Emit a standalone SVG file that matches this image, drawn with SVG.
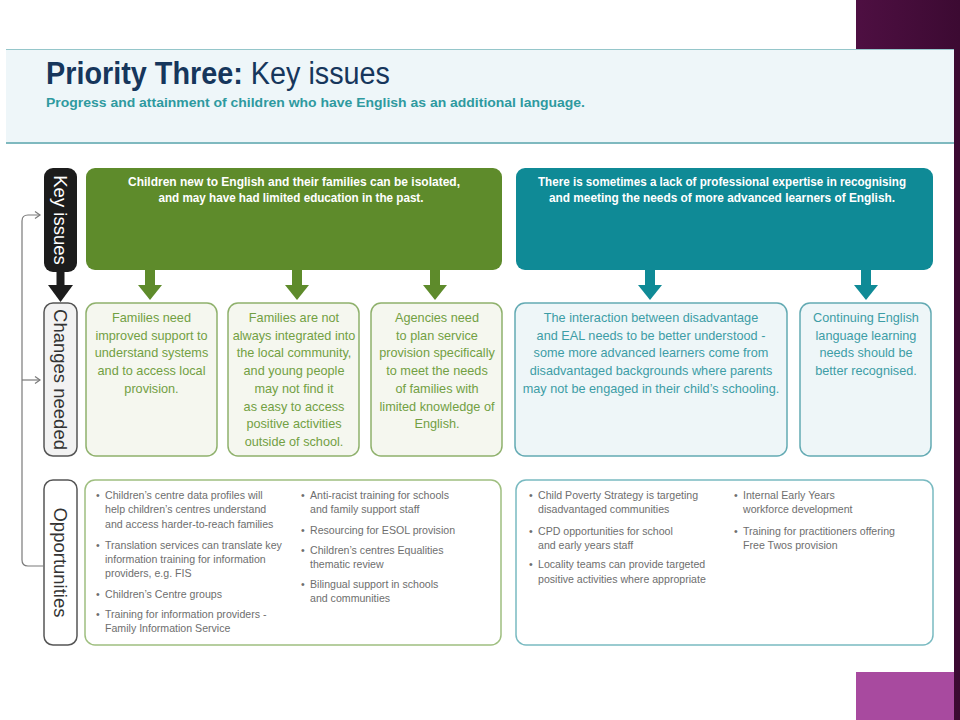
<svg xmlns="http://www.w3.org/2000/svg" width="960" height="720" viewBox="0 0 960 720">
<defs>
<style>
text{font-family:"Liberation Sans",Arial,sans-serif}
.ttl{font-size:31px;fill:#16365c}
.sub{font-size:13.5px;font-weight:bold;fill:#2e9aa0}
.kw{font-size:12px;font-weight:bold;fill:#ffffff}
.cg{font-size:12.7px;fill:#72a043}
.ct{font-size:12.7px;fill:#3d9da6}
.op{font-size:10.6px;fill:#6e6e6e}
.lbl{font-size:18.5px;fill:#333}
.boxg{fill:#f5f7ef;stroke:#8fb16c;stroke-width:1.5}
.boxt{fill:#eef6f8;stroke:#63aab3;stroke-width:1.5}
.opg{fill:#ffffff;stroke:#9fbf80;stroke-width:1.5}
.opt{fill:#ffffff;stroke:#79bac1;stroke-width:1.5}
.fb{fill:none;stroke:#7a7a7a;stroke-width:1.2}
</style>
<marker id="chev" markerWidth="8" markerHeight="8" refX="6" refY="4" orient="auto" markerUnits="userSpaceOnUse">
<path d="M1,0.5 L6,4 L1,7.5" fill="none" stroke="#7a7a7a" stroke-width="1.2"/>
</marker>
<linearGradient id="pur" x1="0" y1="0" x2="1" y2="0">
<stop offset="0" stop-color="#4e0f42"/>
<stop offset="1" stop-color="#3c0a32"/>
</linearGradient>
</defs>
<rect x="0" y="0" width="960" height="720" fill="#ffffff"/>
<rect x="856" y="0" width="104" height="720" fill="url(#pur)"/>
<rect x="6" y="49" width="948" height="623" fill="#ffffff"/>
<rect x="856" y="672" width="98" height="48" fill="#a84a9f"/>

<g id="header">
<rect x="6" y="49" width="948" height="94" fill="#eef6f9"/>
<line x1="6" y1="49.5" x2="954" y2="49.5" stroke="#95c6ca" stroke-width="1"/>
<line x1="6" y1="143" x2="954" y2="143" stroke="#7fb9bf" stroke-width="2"/>
<text x="46" y="84" class="ttl" textLength="344" lengthAdjust="spacingAndGlyphs"><tspan font-weight="bold">Priority Three:</tspan> Key issues</text>
<text x="46" y="107" class="sub" textLength="539" lengthAdjust="spacingAndGlyphs">Progress and attainment of children who have English as an additional language.</text>
</g>

<g id="label-key-issues">
<rect x="44" y="168" width="33" height="104" rx="9" fill="#1c1c1c"/>
<text transform="translate(60.5,220) rotate(90)" text-anchor="middle" dominant-baseline="central" class="lbl" style="fill:#ffffff">Key issues</text>
</g>
<g id="label-changes-needed">
<rect x="44" y="303" width="33" height="153" rx="9" fill="#f2f2f2" stroke="#555" stroke-width="1.5"/>
<text transform="translate(60.5,379.5) rotate(90)" text-anchor="middle" dominant-baseline="central" class="lbl">Changes needed</text>
</g>
<g id="label-opportunities">
<rect x="44" y="480" width="33" height="165" rx="9" fill="#ffffff" stroke="#555" stroke-width="1.5"/>
<text transform="translate(60.5,562.5) rotate(90)" text-anchor="middle" dominant-baseline="central" class="lbl">Opportunities</text>
</g>

<g id="connectors">
<rect x="56.5" y="272" width="8" height="15" fill="#1c1c1c"/>
<polygon points="48,285 73,285 60.5,302" fill="#1c1c1c"/>
<path class="fb" d="M44,566 H28 Q22,566 22,560 V221 Q22,215 28,215 H40" marker-end="url(#chev)"/>
<path class="fb" d="M22,380 H40" marker-end="url(#chev)"/>
<g fill="#5e8b2b">
<rect x="145" y="270" width="10" height="16" /><polygon points="138,285 162,285 150,300"/>
<rect x="292" y="270" width="10" height="16" /><polygon points="285,285 309,285 297,300"/>
<rect x="430" y="270" width="10" height="16" /><polygon points="423,285 447,285 435,300"/>
</g>
<g fill="#0f8a96">
<rect x="645" y="270" width="10" height="16" /><polygon points="638,285 662,285 650,300"/>
<rect x="861" y="270" width="10" height="16" /><polygon points="854,285 878,285 866,300"/>
</g>
</g>

<g id="key-issue-1">
<rect x="86" y="168" width="416" height="102" rx="9" fill="#5e8b2b"/>
<text x="294" y="186" text-anchor="middle" class="kw" textLength="332" lengthAdjust="spacingAndGlyphs">Children new to English and their families can be isolated,</text>
<text x="291" y="202" text-anchor="middle" class="kw" textLength="265" lengthAdjust="spacingAndGlyphs">and may have had limited education in the past.</text>
</g>
<g id="key-issue-2">
<rect x="516" y="168" width="417" height="102" rx="9" fill="#0f8a96"/>
<text x="722" y="186" text-anchor="middle" class="kw" textLength="368" lengthAdjust="spacingAndGlyphs">There is sometimes a lack of professional expertise in recognising</text>
<text x="722" y="202" text-anchor="middle" class="kw" textLength="346" lengthAdjust="spacingAndGlyphs">and meeting the needs of more advanced learners of English.</text>
</g>

<g id="change-1">
<rect x="86" y="303" width="131" height="153" rx="10" class="boxg"/>
<g class="cg" text-anchor="middle">
<text x="151.5" y="322">Families need</text>
<text x="151.5" y="339.7">improved support to</text>
<text x="151.5" y="357.4">understand systems</text>
<text x="151.5" y="375.1">and to access local</text>
<text x="151.5" y="392.8">provision.</text>
</g>
</g>
<g id="change-2">
<rect x="228" y="303" width="131" height="153" rx="10" class="boxg"/>
<g class="cg" text-anchor="middle">
<text x="294" y="322">Families are not</text>
<text x="294" y="339.7">always integrated into</text>
<text x="294" y="357.4">the local community,</text>
<text x="294" y="375.1">and young people</text>
<text x="294" y="392.8">may not find it</text>
<text x="294" y="410.5">as easy to access</text>
<text x="294" y="428.2">positive activities</text>
<text x="294" y="445.9">outside of school.</text>
</g>
</g>
<g id="change-3">
<rect x="371" y="303" width="131" height="153" rx="10" class="boxg"/>
<g class="cg" text-anchor="middle">
<text x="437" y="322">Agencies need</text>
<text x="437" y="339.7">to plan service</text>
<text x="437" y="357.4">provision specifically</text>
<text x="437" y="375.1">to meet the needs</text>
<text x="437" y="392.8">of families with</text>
<text x="437" y="410.5">limited knowledge of</text>
<text x="437" y="428.2">English.</text>
</g>
</g>
<g id="change-4">
<rect x="515" y="303" width="272" height="153" rx="10" class="boxt"/>
<g class="ct" text-anchor="middle">
<text x="651" y="322">The interaction between disadvantage</text>
<text x="651" y="339.7">and EAL needs to be better understood -</text>
<text x="651" y="357.4">some more advanced learners come from</text>
<text x="651" y="375.1">disadvantaged backgrounds where parents</text>
<text x="651" y="392.8">may not be engaged in their child’s schooling.</text>
</g>
</g>
<g id="change-5">
<rect x="800" y="303" width="131" height="153" rx="10" class="boxt"/>
<g class="ct" text-anchor="middle">
<text x="866" y="322">Continuing English</text>
<text x="866" y="339.7">language learning</text>
<text x="866" y="357.4">needs should be</text>
<text x="866" y="375.1">better recognised.</text>
</g>
</g>

<g id="opportunities-1">
<rect x="85" y="480" width="416" height="165" rx="10" class="opg"/>
<g class="op">
<text x="96" y="499">•</text>
<text x="105" y="499">Children’s centre data profiles will</text>
<text x="105" y="513">help children’s centres understand</text>
<text x="105" y="528">and access harder-to-reach families</text>
<text x="96" y="549">•</text>
<text x="105" y="549">Translation services can translate key</text>
<text x="105" y="563">information training for information</text>
<text x="105" y="577">providers, e.g. FIS</text>
<text x="96" y="598">•</text>
<text x="105" y="598">Children’s Centre groups</text>
<text x="96" y="618">•</text>
<text x="105" y="618">Training for information providers -</text>
<text x="105" y="632">Family Information Service</text>
<text x="301" y="499">•</text>
<text x="310" y="499">Anti-racist training for schools</text>
<text x="310" y="513">and family support staff</text>
<text x="301" y="534">•</text>
<text x="310" y="534">Resourcing for ESOL provision</text>
<text x="301" y="554">•</text>
<text x="310" y="554">Children’s centres Equalities</text>
<text x="310" y="568">thematic review</text>
<text x="301" y="588">•</text>
<text x="310" y="588">Bilingual support in schools</text>
<text x="310" y="602">and communities</text>
</g>
</g>
<g id="opportunities-2">
<rect x="516" y="480" width="417" height="165" rx="10" class="opt"/>
<g class="op">
<text x="529" y="499">•</text>
<text x="538" y="499">Child Poverty Strategy is targeting</text>
<text x="538" y="513">disadvantaged communities</text>
<text x="529" y="535">•</text>
<text x="538" y="535">CPD opportunities for school</text>
<text x="538" y="549">and early years staff</text>
<text x="529" y="568">•</text>
<text x="538" y="568">Locality teams can provide targeted</text>
<text x="538" y="583">positive activities where appropriate</text>
<text x="734" y="499">•</text>
<text x="743" y="499">Internal Early Years</text>
<text x="743" y="513">workforce development</text>
<text x="734" y="535">•</text>
<text x="743" y="535">Training for practitioners offering</text>
<text x="743" y="549">Free Twos provision</text>
</g>
</g>
</svg>
